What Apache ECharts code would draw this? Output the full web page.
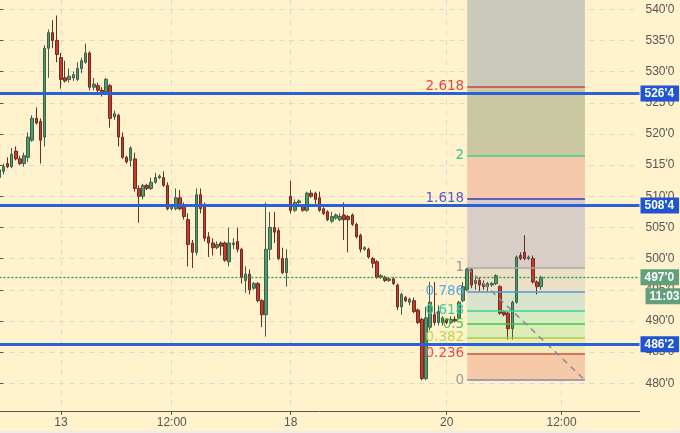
<!DOCTYPE html>
<html><head><meta charset="utf-8">
<script src="https://cdn.jsdelivr.net/npm/echarts@6/dist/echarts.min.js"></script>
<style>html,body{margin:0;padding:0;background:#fff2cc}#c{width:680px;height:433px}</style>
</head><body><div id="c"></div><script>
// ---- data ----
const slotCount = 157;
const tickSlots = [15, 42, 71, 109, 137];
const tickLabels = ['13', '12:00', '18', '20', '12:00'];
// [open, close, low, high]
const ohlc = [
[513,514.25,512.25,514.75],[514,514.75,513.5,515.25],[515.25,514.75,514.5,516.25],[514.75,516.75,514.5,517.75],
[517.25,516,515.75,518],[516,515.25,515,516.5],[515.25,516.5,514.75,517],[516.25,519.5,515.5,520.25],
[519,522.5,518.75,523],[522.5,521.75,521.5,524.25],[522,519,515.25,522.5],[519.5,533.75,518,534.25],
[533.75,536.25,529,536.75],[536.25,535,533.75,538.25],[535,532.75,531.5,539],[532.25,528.75,527.25,533],
[529,528.5,528.25,531.75],[528.75,529.25,528.25,530.5],[529,529.5,528.5,530],[528.75,530.5,528.5,531.5],
[530.5,531.75,529.75,532.25],[531.5,533,531.25,534.5],[533,527.5,527,533.25],[527.5,528,527,529],
[527.75,527,526.25,528.25],[527,526.75,526,527.5],[526.75,528.75,526.5,529],[527.75,522.5,521,528],
[522.75,523.25,522.25,523.75],[523,519.5,518,523.25],[519.5,516.25,516,520.25],[516.25,515.5,515.25,516.5],
[515.75,517.75,514.75,518],[516,511.25,510.75,517],[511.25,510,505.75,511.75],[510,511.75,509.5,512],
[511.75,511.25,511,512],[511.25,512.25,511,513],[512.25,513,512,513.75],[513,513.25,512.75,513.5],
[513,511.75,511.5,514],[511.75,508,507.75,512.25],[508,508.25,507.75,508.5],[508,509.75,507.75,511.25],
[509.75,508,507.75,511],[508.5,506.75,506.25,509],[506.25,502.25,498.75,507.25],[502.5,501,498.5,503],
[501,510.25,500.5,511.25],[510.25,508,507.25,511.25],[508.5,503.25,502.75,509],[503.5,502.5,500.25,504.25],
[502.5,501.75,500.5,503.25],[501.75,502.25,501.5,502.75],[502.5,502,500.5,502.75],[502.5,499.75,499.5,502.75],
[499.5,502.5,498.75,505],[502.25,502.5,501.5,503.25],[502.75,501.5,501,505],[501.5,497,496,501.75],
[496.5,497.5,494.5,498.75],[497.5,495,494.25,498.25],[495.25,496,495,496.25],[496,493.25,493,496.25],
[493.25,491,489,493.5],[491,501.5,487.5,509],[501.5,505,499.75,507.5],[505,504.25,502.5,507.5],
[504.5,500,499.75,505],[500,497.75,497.5,501.75],[497.75,500,495.5,501.5],[510,507.75,507.25,512.5],
[507.75,509,507.5,509.5],[509,509.25,508.75,509.5],[508.5,507.75,507.5,508.75],[507.75,510.5,507.5,510.75],
[510.5,510,509.75,511],[510.5,509.5,508.5,510.75],[509.75,507.75,507.5,510.75],[508,507.25,507,508.25],
[507.5,506.25,506,507.75],[506,506.75,505.75,507.5],[506.5,507,506.25,507.25],[506.25,506.75,506,507.25],
[507,506.25,503,509],[506.75,506.25,501,507],[507,505.5,505.25,507.25],[505.5,503.5,503.25,505.75],
[503.75,501.5,501,504],[501.5,501.75,501.25,502],[501.5,500.25,500,501.75],[500,499.25,498.5,500.25],
[499.5,497,496.75,499.75],[497,497.25,496.75,497.5],[497,496.5,496.25,497.25],[496.5,496.75,496.25,497],
[496.75,496,495.75,497],[495.75,492.25,491.75,496],[492.25,494.25,491,494.5],[493.75,493.25,493,494],
[493,493.5,492.5,493.75],[493.25,491.5,491.25,493.75],[491.75,489.75,489.5,492],[490.25,480.75,480.5,490.5],
[480.75,490.5,480.5,492.25],[489,493,488.5,496.25],[491,489.75,489.25,496.25],[489.75,491.5,489.25,492.5],
[489.75,490.5,489.25,490.75],[490.25,489.75,489.5,490.5],[489.75,490.25,489.5,490.75],[490.25,490,489.75,490.75],
[490.5,493,490.25,493.25],[493.25,495.5,493,496.25],[495,498.25,494.75,498.5],[498.25,495.75,495.25,498.5],
[496,496.5,495,497],[496.5,495.75,494.75,497],[496,495.5,495,496.5],[495.5,496,494.75,496.25],
[495.75,496,495.5,496.25],[496,497.25,495.75,497.5],[495.5,491.25,491,495.75],[491.5,491,490.75,491.75],
[491.25,488.75,487,491.5],[488.75,493,487,493.25],[493,500.25,492.75,500.5],[500.5,500,499.75,501],
[501,500,499.75,503.75],[500,500.25,499.75,500.5],[500,496.25,496,500.5],[496.25,495.5,494.25,496.5],
[495.5,497,495,497.25]
];
const keyLevels = [526.5, 508.5, 486.25];
const keyLabels = ["526'4", "508'4", "486'2"];
const lastPrice = 497;
const lastLabel = "497'0";
const timeTag = "11:03";
const trendFrom = [6.2, 541.5];
const trendTo = [153.7, 476.0];
const fibLow = 480.5, fibHigh = 498.5;
const fibStart = 114, fibEnd = 142.7;
const fibRatios = [0, 0.236, 0.382, 0.5, 0.618, 0.786, 1, 1.618, 2, 2.618];
const fibLabels = ['0', '0.236', '0.382', '0.5', '0.618', '0.786', '1', '1.618', '2', '2.618'];
// ---- styles ----
const fibLineColors = ['#8a8aa8', '#d25040', '#a6d038', '#46c446', '#3ecf9e', '#4e9ad2', '#a8a8a8', '#3434c4', '#34d092', '#c44444'];
const fibTextColors = ['#9a9a9a', '#e05050', '#b8da4c', '#4ccc4c', '#40cc9e', '#5aa8e0', '#9a9a9a', '#5a5ad6', '#34c48c', '#e04848'];
const fibBandColors = ['#f6c9a9', '#eeebb8', '#dcecb6', '#d5ebc1', '#d7e3cb', '#ebdfc4', '#d9cdc8', '#f4c8a8', '#cac8a3', '#cbcaba'];
const axisTop = 541.49, axisBottom = 475.55;

const categories = Array.from({length: slotCount}, (_, i) => String(i));
const isTick = (i) => tickSlots.indexOf(i) >= 0;
const fibPrice = (r) => fibLow + r * (fibHigh - fibLow);

const bandData = fibRatios.map((r, k) => {
  const lo = fibPrice(r);
  const hi = k < fibRatios.length - 1 ? fibPrice(fibRatios[k + 1]) : axisTop;
  return [{coord: [fibStart, lo], itemStyle: {color: fibBandColors[k]}}, {coord: [fibEnd, hi]}];
});
const fibLineData = fibRatios.map((r, k) => [
  {coord: [fibStart, fibPrice(r)], lineStyle: {color: fibLineColors[k], width: 1.5, type: 'solid'},
   label: {show: true, position: 'start', distance: 3, formatter: fibLabels[k], color: fibTextColors[k], fontSize: 13.5, fontFamily: 'DejaVu Sans, Verdana, sans-serif'}},
  {coord: [fibEnd, fibPrice(r)]}
]);
fibLineData.push([
  {coord: [fibStart, fibHigh], lineStyle: {color: '#8c8c8c', width: 1.5, type: [6, 5]}, label: {show: false}},
  {coord: [fibEnd, fibLow]}
]);

const font = 'Liberation Sans, Arial, sans-serif';
const chart = echarts.init(document.getElementById('c'), null, {renderer: 'canvas'});
chart.setOption({
  animation: false,
  backgroundColor: '#fff2cc',
  grid: [
    {left: -0.6, right: 40.5, top: 0, bottom: 22, outerBoundsMode: 'none', containLabel: false},
    {left: -0.6, right: 40.5, top: 9.3, bottom: 49.72, outerBoundsMode: 'none', containLabel: false}
  ],
  xAxis: [
    {type: 'category', gridIndex: 0, data: categories, boundaryGap: false,
     axisLine: {show: true, lineStyle: {color: '#555', width: 1}},
     axisTick: {show: true, interval: isTick, length: 4, lineStyle: {color: '#555'}},
     axisLabel: {interval: isTick, formatter: (v) => tickLabels[tickSlots.indexOf(Number(v))], color: '#555', fontSize: 12, margin: 6, fontFamily: font},
     splitLine: {show: true, interval: isTick, lineStyle: {color: '#d9d9d6', type: [5, 5], width: 1}}},
    {type: 'value', gridIndex: 0, min: 0, max: slotCount - 1, show: false},
    {type: 'value', gridIndex: 1, show: false}
  ],
  yAxis: [
    {type: 'value', gridIndex: 0, position: 'right', min: axisBottom, max: axisTop, scale: true,
     axisLine: {show: true, lineStyle: {color: '#555', width: 1}}, axisTick: {show: false}, axisLabel: {show: false}, splitLine: {show: false}},
    {type: 'value', gridIndex: 1, position: 'right', min: 480, max: 540, interval: 5,
     axisLine: {show: false}, axisTick: {show: true, length: 4, lineStyle: {color: '#555'}},
     axisLabel: {formatter: (v) => v + "'0", color: '#555', fontSize: 12, margin: 6, fontFamily: font},
     splitLine: {show: true, lineStyle: {color: '#d9d9d6', type: [5, 5], width: 1}}}
  ],
  series: [
    {type: 'line', name: 'fibBands', xAxisIndex: 1, yAxisIndex: 0, data: [], z: -1, silent: true, clip: false,
     markArea: {silent: true, data: bandData}},
    {type: 'candlestick', name: 'price', xAxisIndex: 0, yAxisIndex: 0, data: ohlc, barWidth: 3, z: 2,
     itemStyle: {color: '#4e9b6c', color0: '#c63c2c', borderColor: '#3d5f4a', borderColor0: '#6e2c22', borderWidth: 1}},
    {type: 'line', name: 'fibLevels', xAxisIndex: 1, yAxisIndex: 0, data: [], z: 3, silent: true, clip: false,
     markLine: {silent: true, symbol: 'none', animation: false, data: fibLineData}},
    {type: 'line', name: 'lines', xAxisIndex: 1, yAxisIndex: 0, data: [], z: 4, silent: true, clip: false,
     markLine: {silent: true, symbol: 'none', animation: false, data: [
       ...keyLevels.map((v, k) => ({yAxis: v, lineStyle: {color: '#2a62d4', width: 3, type: 'solid'},
          label: {show: true, position: 'end', distance: 1, formatter: keyLabels[k], color: '#fff', fontWeight: 'bold', fontSize: 12, fontFamily: font, backgroundColor: '#1f55d0', padding: [2, 5, 2, 4]}})),
       {yAxis: lastPrice, lineStyle: {color: '#23905c', width: 1.3, type: [2, 2]},
          label: {show: true, position: 'end', distance: 1, formatter: lastLabel, color: '#fff', fontWeight: 'bold', fontSize: 12, fontFamily: font, backgroundColor: '#62a07c', padding: [2, 5, 2, 4]}},
       {yAxis: lastPrice, lineStyle: {color: 'rgba(0,0,0,0)', width: 1},
          label: {show: true, position: 'end', distance: 1, color: '#fff', formatter: '{b|' + timeTag + '}', padding: [38, 0, 0, 5],
                  rich: {b: {color: '#fff', fontWeight: 'bold', fontSize: 12, fontFamily: font, backgroundColor: '#62a07c', padding: [2, 5, 2, 4]}}}},
       [{coord: trendFrom, lineStyle: {color: '#a82410', width: 3.5, type: 'solid'}, label: {show: false}}, {coord: trendTo}]
     ]}}
  ],
  graphic: [{type: 'rect', left: 0, bottom: 0, shape: {width: 680, height: 2}, style: {fill: '#ececec'}, silent: true}]
});
</script></body></html>
